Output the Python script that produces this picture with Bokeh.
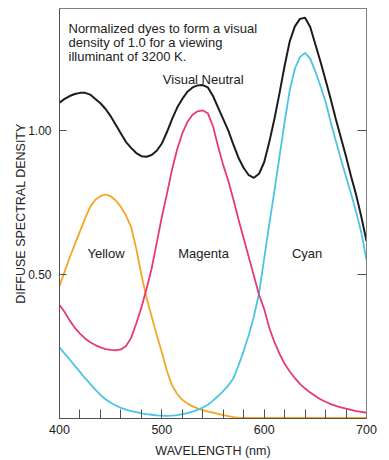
from bokeh.plotting import figure
from bokeh.models import FixedTicker, LinearAxis, Range1d
from bokeh.embed import file_html
from bokeh.resources import INLINE
from bokeh.core.properties import value

# ---- data ----
wavelength = [400, 405, 410, 415, 420, 425, 430, 435, 440, 445,
              450, 455, 460, 465, 470, 475, 480, 485, 490, 495,
              500, 505, 510, 515, 520, 525, 530, 535, 540, 545,
              550, 555, 560, 565, 570, 575, 580, 585, 590, 595,
              600, 605, 610, 615, 620, 625, 630, 635, 640, 645,
              650, 655, 660, 665, 670, 675, 680, 685, 690, 695, 700]

yellow = [0.46, 0.51, 0.56, 0.605, 0.65, 0.695, 0.735, 0.76, 0.772, 0.778,
          0.772, 0.757, 0.735, 0.705, 0.665, 0.59, 0.50, 0.42, 0.355, 0.29,
          0.23, 0.165, 0.115, 0.085, 0.065, 0.052, 0.042, 0.035, 0.029, 0.024,
          0.02, 0.016, 0.012, 0.008, 0.005, 0.003, 0.002, 0.002, 0.002, 0.002,
          0.002, 0.002, 0.002, 0.002, 0.002, 0.002, 0.002, 0.002, 0.002, 0.002,
          0.002, 0.002, 0.002, 0.002, 0.002, 0.002, 0.002, 0.002, 0.002, 0.002, 0.002]

magenta = [0.394, 0.37, 0.34, 0.315, 0.295, 0.278, 0.265, 0.255, 0.247, 0.241,
           0.238, 0.237, 0.24, 0.252, 0.28, 0.33, 0.385, 0.45, 0.52, 0.61,
           0.70, 0.78, 0.865, 0.935, 0.99, 1.03, 1.055, 1.067, 1.07, 1.06,
           1.015, 0.945, 0.88, 0.825, 0.76, 0.69, 0.625, 0.56, 0.495, 0.43,
           0.38, 0.315, 0.265, 0.225, 0.19, 0.163, 0.14, 0.12, 0.104, 0.09,
           0.078, 0.067, 0.058, 0.05, 0.044, 0.039, 0.034, 0.03, 0.026, 0.023, 0.02]

cyan = [0.247, 0.225, 0.205, 0.183, 0.162, 0.14, 0.12, 0.10, 0.082, 0.067,
        0.055, 0.045, 0.037, 0.031, 0.026, 0.022, 0.018, 0.015, 0.013, 0.011,
        0.01, 0.009, 0.01, 0.012, 0.015, 0.019, 0.024, 0.03, 0.038, 0.048,
        0.062, 0.078, 0.095, 0.115, 0.14, 0.185, 0.235, 0.29, 0.355, 0.435,
        0.555, 0.675, 0.79, 0.91, 1.03, 1.14, 1.215, 1.255, 1.27, 1.25,
        1.205, 1.155, 1.10, 1.03, 0.965, 0.90, 0.84, 0.78, 0.715, 0.645, 0.55]

neutral = [1.097, 1.11, 1.12, 1.127, 1.131, 1.131, 1.125, 1.11, 1.095, 1.075,
           1.05, 1.02, 0.99, 0.96, 0.94, 0.922, 0.911, 0.909, 0.915, 0.93,
           0.955, 0.995, 1.04, 1.08, 1.11, 1.135, 1.15, 1.157, 1.158, 1.15,
           1.12, 1.08, 1.04, 1.0, 0.95, 0.905, 0.87, 0.845, 0.836, 0.85,
           0.89, 0.96, 1.04, 1.13, 1.225, 1.31, 1.362, 1.388, 1.392, 1.36,
           1.30, 1.24, 1.176, 1.11, 1.04, 0.975, 0.91, 0.84, 0.775, 0.70, 0.616]

x_major = [400, 500, 600, 700]
x_minor = list(range(400, 701, 20))
y_major = [0.5, 1.0]
y_labels = {0.5: "0.50", 1.0: "1.00"}

FONT = "Liberation Sans"

p = figure(width=389, height=460,
           x_range=Range1d(400, 700), y_range=Range1d(0, 1.424),
           output_backend="svg", toolbar_location=None,
           min_border_left=59, min_border_right=23,
           min_border_top=8, min_border_bottom=42,
           x_axis_label="WAVELENGTH (nm)",
           y_axis_label="DIFFUSE SPECTRAL DENSITY")

p.xgrid.visible = False
p.ygrid.visible = False
p.outline_line_color = "#808080"
p.outline_line_width = 1
p.background_fill_color = "white"
p.border_fill_color = "white"

AX = "#505050"
TXT = "#222222"

xa = p.xaxis[0]
xa.ticker = FixedTicker(ticks=x_major, minor_ticks=x_minor)
xa.axis_line_color = AX
xa.major_tick_line_color = AX
xa.minor_tick_line_color = AX
xa.major_tick_in = 9
xa.major_tick_out = 0
xa.minor_tick_in = 9
xa.minor_tick_out = 0
xa.major_label_standoff = 6
xa.major_label_text_font = FONT
xa.major_label_text_font_size = "12.5px"
xa.major_label_text_color = TXT
xa.axis_label_standoff = 7
xa.axis_label_text_font = FONT
xa.axis_label_text_font_size = "12.5px"
xa.axis_label_text_font_style = "normal"
xa.axis_label_text_color = TXT

ya = p.yaxis[0]
ya.ticker = FixedTicker(ticks=y_major, minor_ticks=[])
ya.major_label_overrides = y_labels
ya.axis_line_color = AX
ya.major_tick_line_color = AX
ya.major_tick_in = 7
ya.major_tick_out = 0
ya.minor_tick_line_color = None
ya.major_label_standoff = 8
ya.major_label_text_font = FONT
ya.major_label_text_font_size = "12px"
ya.major_label_text_color = TXT
ya.axis_label_standoff = -3
ya.axis_label_text_font = FONT
ya.axis_label_text_font_size = "12.5px"
ya.axis_label_text_font_style = "normal"
ya.axis_label_text_color = TXT

ra = LinearAxis(ticker=FixedTicker(ticks=y_major, minor_ticks=[]),
                major_label_overrides={0.5: "", 1.0: ""})
ra.axis_line_color = "#808080"
ra.major_tick_line_color = AX
ra.major_tick_in = 9
ra.major_tick_out = 0
ra.minor_tick_line_color = None
ra.major_label_standoff = 0
ra.major_label_text_font_size = "1px"
p.add_layout(ra, "right")

# ---- curves ----
p.line(wavelength, yellow, line_color="#f5a623", line_width=1.8)
p.line(wavelength, cyan, line_color="#4cc4e4", line_width=1.8)
p.line(wavelength, magenta, line_color="#e6387c", line_width=1.8)
p.line(wavelength, neutral, line_color="#1c1c1c", line_width=2)

# ---- annotations ----
p.text(x=[445.5, 540.8, 642.0, 540.4], y=[0.574, 0.574, 0.574, 1.177],
       text=["Yellow", "Magenta", "Cyan", "Visual Neutral"],
       text_font=value(FONT), text_font_size="13px", text_color=TXT,
       text_align="center", text_baseline="alphabetic")

p.text(x=[408.8, 408.8, 408.8], y=[1.353, 1.306, 1.258],
       text=["Normalized dyes to form a visual",
             "density of 1.0 for a viewing",
             "illuminant of 3200 K."],
       text_font=value(FONT), text_font_size="13px", text_color=TXT,
       text_align="left", text_baseline="alphabetic")

open("out.html", "w").write(file_html(p, INLINE))
